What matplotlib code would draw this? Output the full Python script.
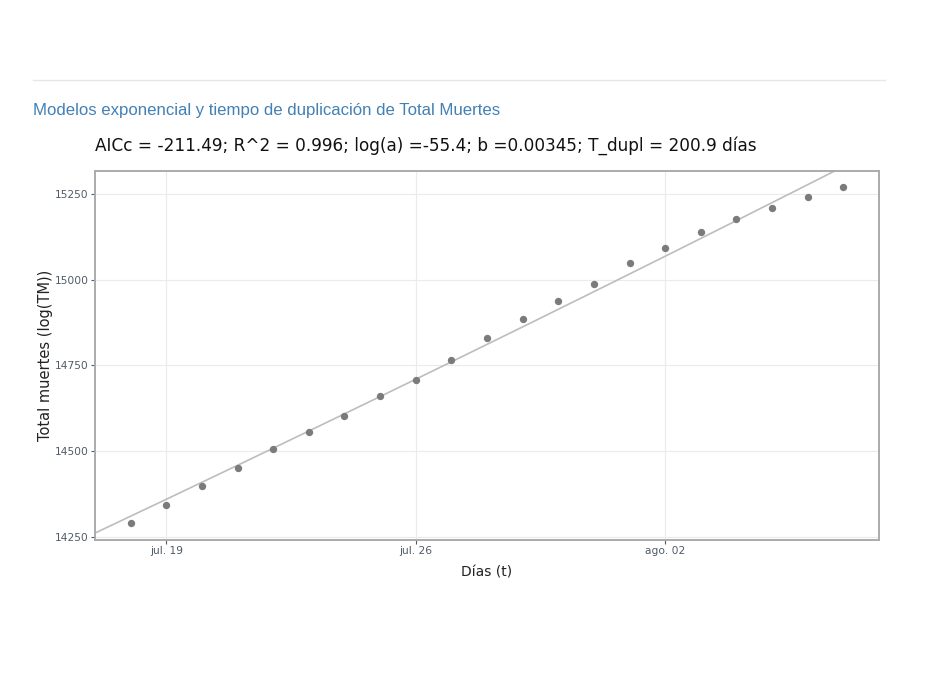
import matplotlib
matplotlib.use("Agg")
import matplotlib.pyplot as plt
import numpy as np
import pandas as pd

# data (daily totals)
dates = pd.date_range("2020-07-18", "2020-08-07", freq="D")
total_muertes = [14291, 14344, 14399, 14452, 14507, 14557, 14604, 14662, 14709,
                 14767, 14829, 14885, 14937, 14987, 15048, 15092, 15139, 15177,
                 15209, 15241, 15270]
ytick_vals = [14250, 14500, 14750, 15000, 15250]
xtick_dates = pd.to_datetime(["2020-07-19", "2020-07-26", "2020-08-02"])
xtick_labels = ["jul. 19", "jul. 26", "ago. 02"]

header = "Modelos exponencial y tiempo de duplicación de Total Muertes"
subtitle = "AICc = -211.49; R^2 = 0.996; log(a) =-55.4; b =0.00345; T_dupl = 200.9 días"

FRAME = "#ababab"
GRID = "#ebebeb"
TICK = "#4f5b66"

fig = plt.figure(figsize=(9.29, 6.75), dpi=100)
ax = fig.add_axes([95 / 929, 1 - 540 / 675, 784 / 929, 369 / 675])

# exponential fit on the log values
t = np.arange(len(total_muertes))
b, loga = np.polyfit(t, np.log(total_muertes), 1)
x0, x1 = pd.Timestamp("2020-07-17"), pd.Timestamp("2020-08-08")
tt = np.linspace(-1, 21, 200)
tdates = dates[0] + pd.to_timedelta(tt, unit="D")
ax.plot(tdates, np.exp(loga + b * tt), color="#bdbdbd", lw=1.2, zorder=2)

ax.scatter(dates, total_muertes, s=28, color="#7b7b7b", zorder=3, linewidths=0)

ax.set_xlim(x0, x1)
ax.set_ylim(14241, 15317)
ax.set_xticks(xtick_dates)
ax.set_xticklabels(xtick_labels)
ax.set_yticks(ytick_vals)
ax.grid(True, color=GRID, lw=0.8)
ax.set_axisbelow(True)
for s in ax.spines.values():
    s.set_color(FRAME)
    s.set_linewidth(1.4)
ax.tick_params(axis="both", direction="out", length=3, width=0.8, color=TICK,
               labelsize=7.7, labelcolor=TICK, pad=1.5)

ax.set_xlabel("Días (t)", fontsize=10, color="#222222", labelpad=7)
ax.set_ylabel("Total muertes (log(TM))", fontsize=10.5, color="#222222", labelpad=1)

# page furniture
fig.add_artist(plt.Line2D([33 / 929, 885 / 929], [1 - 80 / 675] * 2,
                          color="#e6e6e6", lw=1.0))
fig.text(33 / 929, 1 - 111 / 675, header, fontsize=12.1, color="#4280b5",
         family="Liberation Sans", va="center", ha="left")
fig.text(95 / 929, 1 - 146 / 675, subtitle, fontsize=12.2, color="#111111",
         va="center", ha="left")

plt.savefig("out.png", dpi=100, facecolor="white")
